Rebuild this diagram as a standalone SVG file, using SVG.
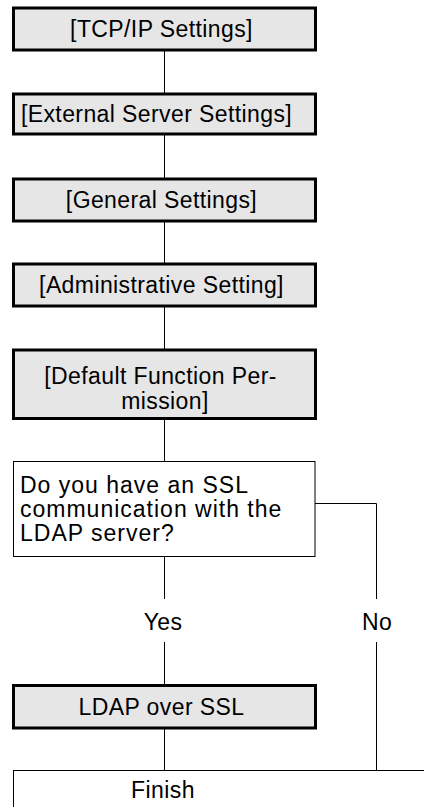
<svg xmlns="http://www.w3.org/2000/svg" width="424" height="807" viewBox="0 0 424 807">
<style>
.box{fill:#e6e6e6;stroke:#000;stroke-width:3}
.dec{fill:#fff;stroke:#000;stroke-width:1}
.ln{fill:none;stroke:#000;stroke-width:1}
text{font-family:"Liberation Sans",Arial,Helvetica,sans-serif;font-size:23px;fill:#000;letter-spacing:0.4px}
.c{text-anchor:middle}
.q{letter-spacing:1px}
</style>
<rect width="424" height="807" fill="#fff"/>
<g id="connectors">
<path class="ln" d="M164.5 50V94M164.5 134V179M164.5 221V264M164.5 306V350M164.5 418V461.5M164.5 557V599M164.5 642V685M164.5 728V770.5M315 503.5H376.5V599M376.5 642V770.5"/>
<text class="c" x="163" y="630">Yes</text>
<text class="c" x="377" y="630">No</text>
</g>
<g id="n1"><rect class="box" x="13.5" y="8" width="302" height="42"/><text class="c" x="161.5" y="37">[TCP/IP Settings]</text></g>
<g id="n2"><rect class="box" x="13.5" y="94" width="302" height="40"/><text class="c" x="156.5" y="122">[External Server Settings]</text></g>
<g id="n3"><rect class="box" x="13.5" y="179" width="302" height="42"/><text class="c" x="161.5" y="208">[General Settings]</text></g>
<g id="n4"><rect class="box" x="13.5" y="264" width="302" height="42"/><text class="c" x="161.5" y="293">[Administrative Setting]</text></g>
<g id="n5"><rect class="box" x="13.5" y="350" width="302" height="68.5"/><text class="c" x="160.5" y="384">[Default Function Per-</text><text class="c" x="165" y="409">mission]</text></g>
<g id="n6"><rect class="dec" x="13.5" y="461.5" width="301.5" height="95"/><text class="q" x="20" y="493">Do you have an SSL</text><text class="q" x="20" y="517">communication with the</text><text class="q" x="20" y="541">LDAP server?</text></g>
<g id="n7"><rect class="box" x="13.5" y="685.5" width="302" height="42.5"/><text class="c" x="161.5" y="715">LDAP over SSL</text></g>
<g id="n8"><rect class="dec" x="13.5" y="770.5" width="420" height="50"/><text class="c" x="163" y="798">Finish</text></g>
</svg>
